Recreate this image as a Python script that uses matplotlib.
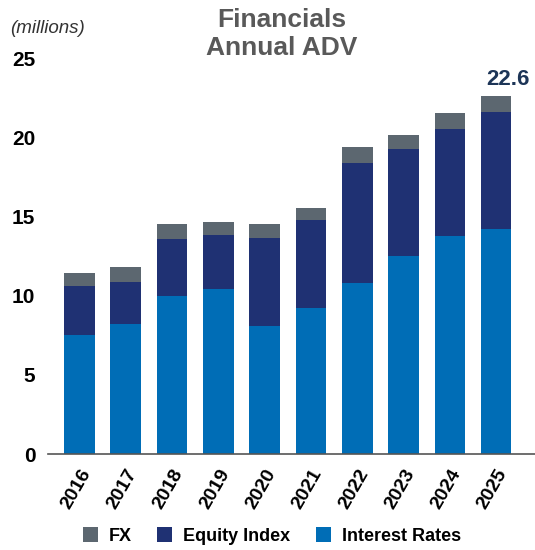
import matplotlib
matplotlib.use("Agg")
import matplotlib.pyplot as plt
import numpy as np

years = ["2016", "2017", "2018", "2019", "2020", "2021", "2022", "2023", "2024", "2025"]
interest_rates = [7.5, 8.2, 10.0, 10.4, 8.1, 9.25, 10.8, 12.5, 13.75, 14.2]
equity_index = [3.1, 2.65, 3.6, 3.45, 5.55, 5.5, 7.6, 6.75, 6.8, 7.4]
fx = [0.85, 0.95, 0.95, 0.8, 0.9, 0.8, 1.0, 0.9, 1.0, 1.0]
total_label = "22.6"

c_fx = "#5c6770"
c_eq = "#1f3173"
c_ir = "#006db6"

plt.rcParams['font.family'] = ['Liberation Sans', 'DejaVu Sans']

fig = plt.figure(figsize=(5.35, 5.5), dpi=100)
ax = fig.add_axes([0.0897, 0.1745, 0.9103, 0.72])

x = np.arange(len(years))
w = 0.66
ir = np.array(interest_rates)
eq = np.array(equity_index)
fxa = np.array(fx)
ax.bar(x, ir, w, color=c_ir, label="Interest Rates")
ax.bar(x, eq, w, bottom=ir, color=c_eq, label="Equity Index")
ax.bar(x, fxa, w, bottom=ir + eq, color=c_fx, label="FX")

tot = ir + eq + fxa
ax.text(x[-1] + 0.25, tot[-1] + 0.35, total_label, ha="center", va="bottom",
        fontsize=16, fontweight="bold", color="#1d3557")

ax.set_xlim(-0.68, 9.84)
ax.set_ylim(0, 25)
ax.set_yticks([0, 5, 10, 15, 20, 25])
ax.set_xticks(x)
ax.set_xticklabels(years, rotation=60, ha="right", rotation_mode="anchor",
                   fontsize=14, fontweight="bold")
for lab in ax.get_yticklabels():
    lab.set_fontsize(15)
    lab.set_fontweight("bold")
ax.tick_params(axis="both", length=0)
ax.tick_params(axis="y", pad=9)
ax.tick_params(axis="x", pad=9)
for s in ["top", "right", "left"]:
    ax.spines[s].set_visible(False)
ax.spines["bottom"].set_color("#555555")
ax.spines["bottom"].set_linewidth(1.2)

fig.text(0.527, 0.985, "Financials\nAnnual ADV", ha="center", va="top",
         fontsize=19, fontweight="bold", color="#595959", linespacing=1.2)
fig.text(0.018, 0.949, "(millions)", ha="left", va="center",
         fontsize=13.5, fontstyle="italic", color="#333333")

handles, labels = ax.get_legend_handles_labels()
order = [2, 1, 0]
fig.legend([handles[i] for i in order], [labels[i] for i in order],
           loc="lower center", bbox_to_anchor=(0.508, -0.02), ncol=3,
           frameon=False, handlelength=0.85, handleheight=0.85,
           handletextpad=0.6, columnspacing=1.4,
           prop={"weight": "bold", "size": 13})

fig.savefig("out.png", dpi=100)
